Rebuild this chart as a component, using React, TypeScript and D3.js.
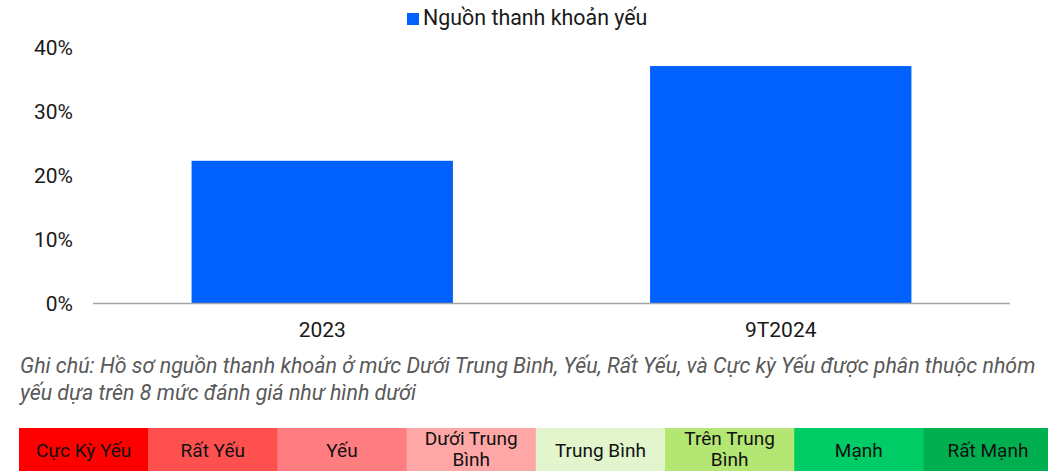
import { useEffect, useRef } from "react";
import * as d3 from "d3";

const categories = ["2023", "9T2024"];
const weakShare = [22.3, 37.1];
const yTicks = [0, 10, 20, 30, 40];
const seriesName = "Nguồn thanh khoản yếu";
const noteLines = [
  "Ghi chú: Hồ sơ nguồn thanh khoản ở mức Dưới Trung Bình, Yếu, Rất Yếu, và Cực kỳ Yếu được phân thuộc nhóm",
  "yếu dựa trên 8 mức đánh giá như hình dưới",
];
const levelLabels = [
  ["Cực Kỳ Yếu"],
  ["Rất Yếu"],
  ["Yếu"],
  ["Dưới Trung", "Bình"],
  ["Trung Bình"],
  ["Trên Trung", "Bình"],
  ["Mạnh"],
  ["Rất Mạnh"],
];
const levelColors = [
  "#ff0000",
  "#ff5050",
  "#ff7c80",
  "#ffa7a7",
  "#e2f5cd",
  "#b3e673",
  "#00cc66",
  "#00b050",
];

const FONT = "Roboto, 'Noto Sans', sans-serif";

const App = () => {
  const svgRef = useRef<SVGSVGElement>(null);

  useEffect(() => {
    if (!svgRef.current) return;
    d3.select(svgRef.current).selectAll("*").remove();

    const width = 1048;
    const height = 471;
    const svg = d3.select(svgRef.current)
      .attr("width", width)
      .attr("height", height)
      .style("font-family", FONT);

    const plot = { left: 93, right: 1010, top: 47.5, bottom: 303.5 };

    const x = d3.scaleBand<string>()
      .domain(categories)
      .range([plot.left, plot.right])
      .paddingInner(0.43)
      .paddingOuter(0.215);

    const y = d3.scaleLinear()
      .domain([0, 40])
      .range([plot.bottom, plot.top]);

    // bars
    svg.append("g")
      .selectAll("rect")
      .data(categories)
      .join("rect")
      .attr("x", d => x(d)!)
      .attr("y", (d, i) => y(weakShare[i]))
      .attr("width", x.bandwidth())
      .attr("height", (d, i) => y(0) - y(weakShare[i]))
      .attr("fill", "#0061ff");

    // baseline
    svg.append("line")
      .attr("x1", plot.left)
      .attr("x2", plot.right)
      .attr("y1", y(0))
      .attr("y2", y(0))
      .attr("stroke", "#a6a6a6")
      .attr("stroke-width", 1.5);

    // y tick labels
    svg.append("g")
      .selectAll("text")
      .data(yTicks)
      .join("text")
      .attr("x", 73)
      .attr("y", d => y(d))
      .attr("dy", "0.35em")
      .attr("text-anchor", "end")
      .style("font-size", "21px")
      .style("fill", "#1a1a1a")
      .text(d => `${d}%`);

    // x labels
    svg.append("g")
      .selectAll("text")
      .data(categories)
      .join("text")
      .attr("x", d => x(d)! + x.bandwidth() / 2)
      .attr("y", 337)
      .attr("text-anchor", "middle")
      .style("font-size", "21px")
      .style("fill", "#1a1a1a")
      .text(d => d);

    // legend
    const legend = svg.append("g").attr("transform", "translate(407,13)");
    legend.append("rect")
      .attr("width", 12)
      .attr("height", 12)
      .attr("fill", "#0061ff");
    legend.append("text")
      .attr("x", 16)
      .attr("y", 12)
      .style("font-size", "21.4px")
      .style("fill", "#1a1a1a")
      .text(seriesName);

    // note
    svg.append("g")
      .selectAll("text")
      .data(noteLines)
      .join("text")
      .attr("x", 20)
      .attr("y", (d, i) => 373 + i * 27)
      .style("font-size", "21.4px")
      .style("font-style", "italic")
      .style("fill", "#595959")
      .text(d => d);

    // rating scale strip
    const cellW = 129.2;
    const cells = svg.append("g")
      .selectAll("g")
      .data(levelLabels)
      .join("g")
      .attr("transform", (d, i) => `translate(${19 + i * cellW},428)`);

    cells.append("rect")
      .attr("width", cellW + 0.5)
      .attr("height", 45)
      .attr("fill", (d, i) => levelColors[i]);

    cells.each(function (lines) {
      const g = d3.select(this);
      const startY = lines.length === 1 ? 29 : 17;
      lines.forEach((line, j) => {
        g.append("text")
          .attr("x", cellW / 2)
          .attr("y", startY + j * 21)
          .attr("text-anchor", "middle")
          .style("font-size", "19px")
          .style("fill", "#111111")
          .text(line);
      });
    });
  }, []);

  return (
    <div style={{ position: "absolute", left: 0, top: 0 }}>
      <svg ref={svgRef} style={{ display: "block" }}></svg>
    </div>
  );
};

export default App;
